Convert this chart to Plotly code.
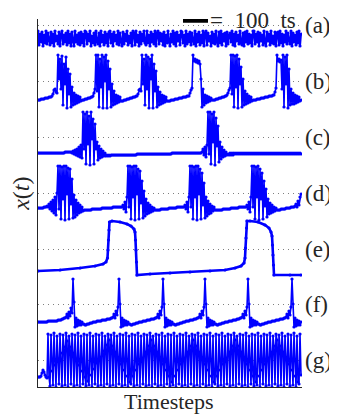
import plotly.graph_objects as go

# ---------------- data ----------------
DT = 4  # timesteps between samples of the uniformly sampled series

SERIES_LABELS = ["(a)", "(b)", "(c)", "(d)", "(e)", "(f)", "(g)"]
SCALE_BAR_TS = 100
SCALE_BAR_START = 580

A = [
15,1,12,4,14,0,11,3,15,2,13,5,
1,14,3,12,0,15,5,10,2,14,0,12,
15,2,11,4,13,1,15,3,12,0,14,5,
0,15,4,11,2,13,1,14,3,12,0,15,
14,2,12,5,15,0,10,3,13,1,15,4,
2,13,0,15,4,11,1,14,3,12,0,14,
15,3,12,0,14,5,11,2,15,1,13,4,
0,14,2,12,5,15,1,10,3,13,0,15,
13,1,15,4,11,0,14,2,12,5,15,3,
1,15,3,11,0,14,4,12,2,15,0,13,
15,2,13,5,12,1,14,0,11,3,15,4,
0,12,4,15,2,13,0,14,5,11,1,15,
14,3,11,0,15,2,12,4,14,1,13,5,
2,15,0,12,4,14,1,11,3,15,0,13,
15,1,13,5,10,0,14,3,12,2,15,4,
0,14,3,15,1,12,5,13,0,14,2,11,
13,4,15,1,12,0,14,5,11,2,15,3,
1,13,0,14,4,15,2,12,3,11,0,15,
15,2,12,4,14,0,13,5,11,1,15,3,
0,14,5,12,1,15,3,10,2,14,0,13,
14,1,15,3,12,0,11,4,15,2,13,5,
2,15,0,13,4,11,1,14,3,15,0,12,
]

B = [
-1,-1,-1,0,0,0,0,1,1,1,1,2,2,2,3,
5,9,10,7,6,
44,20,40,10,43,-6,35,15,42,-9,30,5,25,-8,12,
-6,6,-5,4,-4,3,-3,2,-2,-1,
-1,-1,0,0,0,1,1,1,2,2,3,
6,10,
44,8,44,-8,40,12,44,-9,42,18,44,-9,38,10,30,-8,
15,-6,8,-5,4,-4,3,-3,2,-2,
-2,-2,-1,-1,-1,0,0,0,1,1,1,2,2,2,3,3,
5,9,10,8,
44,15,40,-6,44,10,42,-9,40,20,44,-9,35,8,28,-8,
12,-6,7,-5,4,-4,3,-3,2,-2,
-2,-2,-2,-1,-1,-1,-1,0,0,0,0,1,1,1,1,2,2,2,2,3,3,3,
6,9,11,
44,38,40,37,39,36,38,35,20,-8,10,
-6,4,-4,3,-3,2,-2,1,-1,-1,
-1,-1,0,0,0,1,1,1,2,2,2,3,3,4,
6,9,11,
44,5,44,-8,43,12,44,-9,40,15,32,-8,20,
-6,8,-5,5,-4,3,-3,2,-2,-1,
-1,-1,-1,0,0,0,0,1,1,1,1,2,2,2,2,3,3,3,3,4,4,
7,11,
44,38,40,37,39,10,44,-8,42,15,44,-9,30,
-6,10,-5,6,-5,4,-4,3,-3,2,-2,-1,
]

C = [
1,1,1,1,1,1,1,1,1,1,
1,1,1,1,1,1,1,1,1,1,
1,1,1,1,1,1,1,2,2,2,
2,2,2,2,
1,3,0,4,-1,5,-2,7,-3,9,-4,
42,5,40,-10,42,10,38,-11,42,15,35,-10,30,5,
12,-6,8,-4,5,-3,3,-2,1,-2,
-1,-2,-1,-2,-1,-1,-1,-1,-1,-1,
-1,-1,-1,-1,-1,-1,-1,-1,-1,-1,
-1,-1,-1,-1,-1,-1,-1,-1,-1,-1,
0,0,0,0,0,0,0,0,0,0,
0,0,0,0,0,0,0,0,0,0,
0,0,0,0,0,0,0,0,0,0,
0,0,0,0,0,1,1,1,1,1,
1,1,1,1,1,1,1,1,1,1,
1,1,1,1,1,1,1,1,1,1,
1,1,1,1,1,
2,5,-1,7,-3,9,
42,0,42,-10,40,12,42,-11,36,8,28,
-8,12,-5,7,-3,4,-2,2,-1,0,
-1,1,-1,1,-1,1,0,1,0,1,
0,1,0,1,0,1,0,1,0,1,
0,1,0,1,0,1,0,1,0,1,
0,1,0,1,0,1,0,1,0,1,
0,1,0,1,0,1,0,1,0,1,
0,1,0,1,0,1,0,1,0,1,
0,1,0,1,0,1,0,1,0,1,
0,1,0,
]

D = [
1,1,1,1,1,1,2,2,2,3,
2,5,0,7,-2,9,-4,12,-6,16,
43,0,43,-10,42,10,43,-11,43,15,41,-10,40,5,30,-9,
14,-8,9,-6,6,-4,4,-3,2,-2,
-1,-1,-1,-1,-1,-1,-1,-1,0,0,0,0,0,0,0,0,0,0,1,1,1,1,1,1,1,1,1,1,1,2,2,2,2,2,2,2,2,2,2,
4,0,7,-3,12,
43,2,43,-10,42,12,43,-11,43,15,40,-10,38,6,28,-9,18,
-7,10,-5,6,-4,4,-3,2,-2,1,
-1,-1,-1,-1,-1,-1,0,0,0,0,0,0,0,0,1,1,1,1,1,1,1,1,2,2,2,2,2,2,2,2,
4,0,7,-3,12,
43,2,43,-10,42,12,43,-11,43,15,40,-10,36,4,26,-9,
12,-7,8,-5,5,-4,3,-2,2,-1,
-1,-1,-1,-1,-1,-1,-1,0,0,0,0,0,0,0,0,1,1,1,1,1,1,1,1,2,2,2,2,2,2,2,2,
4,0,7,-3,12,
43,2,43,-10,42,12,43,-11,40,10,36,-10,28,3,20,
-8,10,-5,6,-4,4,-3,2,-2,1,
-1,-1,-1,-1,0,0,0,0,0,1,1,1,1,1,2,2,2,2,
3,5,2,8,4,12,15,
]

# (e) is a relaxation oscillation: explicit (timestep, value) points
E_T = [0, 88, 168, 228, 260, 272, 278, 280, 282, 284, 286, 296, 328, 356, 372, 384,
       388, 390, 392, 394, 396, 448, 528, 608, 688, 748, 788, 812, 824, 828, 830,
       832, 834, 836, 848, 880, 908, 924, 932, 936, 938, 940, 942, 944, 1008, 1052]
E_V = [1, 2, 4, 6, 8, 10, 14, 22, 32, 42, 50, 51, 50, 48, 46, 43,
       40, 32, 22, 10, -3, -2, -1, 0, 1, 2, 4, 6, 9, 14, 24,
       34, 44, 51, 51, 50, 47, 44, 40, 36, 27, 17, 7, -3, -3, -3]

F = [
0,0,0,0,0,0,0,0,0,0,1,1,1,1,1,1,1,1,1,1,2,2,2,2,3,3,4,4,5,
8,4,10,6,14,9,
43,20,-5,4,
-4,2,-3,1,-3,0,-2,-2,
-3,-3,-2,-2,-2,-1,-1,-1,0,0,0,0,1,1,1,1,1,2,2,2,2,2,3,3,3,3,4,4,5,
8,4,11,7,15,
43,18,-5,4,
-4,2,-3,1,-3,0,-2,-2,
-3,-3,-2,-2,-2,-1,-1,-1,0,0,0,0,1,1,1,1,2,2,2,2,3,3,3,3,4,4,5,
8,4,11,7,15,
43,18,-5,4,
-4,2,-3,1,-3,0,-2,-2,
-3,-3,-2,-2,-2,-1,-1,-1,0,0,0,1,1,1,1,2,2,2,2,3,3,3,4,4,5,
8,4,11,7,15,
43,18,-5,4,
-4,2,-3,1,-3,0,-2,-2,
-3,-3,-2,-2,-2,-1,-1,-1,0,0,0,0,1,1,1,1,2,2,2,2,3,3,3,4,4,5,
8,4,11,7,15,
43,18,-5,4,
-4,2,-3,1,-3,0,-2,-2,
-3,-3,-2,-2,-2,-1,-1,-1,0,0,0,0,1,1,1,1,2,2,2,2,3,3,3,3,4,4,5,
8,4,11,7,15,
43,18,-5,4,
-4,2,-3,1,-3,0,
]

G = [
10,10,10,11,14,17,15,12,10,9,
53,10,1,52,16,2,54,22,0,51,28,3,
53,34,1,52,40,2,54,46,0,51,40,3,
53,34,1,52,28,2,54,22,0,51,16,3,
53,10,1,52,6,2,54,12,0,51,18,3,
53,24,1,52,30,2,54,36,0,51,42,3,
53,47,1,52,41,2,54,35,0,51,29,3,
53,23,1,52,17,2,54,11,0,51,5,3,
53,11,1,52,17,2,54,23,0,51,29,3,
53,35,1,52,41,2,54,47,0,51,41,3,
53,35,1,52,29,2,54,23,0,51,17,3,
53,11,1,52,5,2,54,11,0,51,17,3,
53,23,1,52,29,2,54,35,0,51,41,3,
53,47,1,52,41,2,54,35,0,51,29,3,
53,23,1,52,17,2,54,11,0,51,5,3,
53,11,1,52,17,2,54,23,0,51,29,3,
53,35,1,52,41,2,54,47,0,51,41,3,
53,35,1,52,29,2,54,23,0,51,17,3,
53,11,1,52,5,2,54,11,0,51,17,3,
53,23,1,52,29,2,54,35,0,51,41,3,
53,47,1,52,41,2,54,35,0,51,29,3,
53,23,1,52,17,2,54,11,0,51,5,3,
53,12,
]

# ---------------- layout / style ----------------
OFFSETS = [341, 288, 233, 178, 115, 65, 0]   # vertical stacking of the rows
GRID = [362, 306, 250, 194, 138, 83, 27]     # dotted reference line per row
BLUE = "#0000FF"
SERIF = "Liberation Serif, DejaVu Serif, serif"
TXT = "#262626"

fig = go.Figure()

def add(t, v, off, width=1.6):
    fig.add_trace(go.Scatter(
        x=t, y=[off + val for val in v], mode="lines+markers",
        line=dict(color=BLUE, width=width),
        marker=dict(color=BLUE, size=3.2, symbol="circle"),
        hoverinfo="skip", cliponaxis=True))

uniform = [A, B, C, D, None, F, G]
widths = [2.0, 1.6, 1.6, 1.6, 2.6, 1.6, 1.6]
for k, vals in enumerate(uniform):
    if vals is None:
        add(E_T, E_V, OFFSETS[k], width=widths[k])
    else:
        add([i * DT for i in range(len(vals))], vals, OFFSETS[k], width=widths[k])

annotations = []
for lab, gy in zip(SERIES_LABELS, GRID):
    annotations.append(dict(text=lab, xref="paper", x=1.0, xanchor="left", xshift=1,
                            yref="y", y=gy, yanchor="middle", showarrow=False,
                            font=dict(family=SERIF, size=23, color=TXT)))

annotations.append(dict(text="=&nbsp;&nbsp;100&nbsp;&nbsp;ts", xref="x",
                        x=SCALE_BAR_START + SCALE_BAR_TS,
                        xanchor="left", xshift=0, yref="y", y=367, yanchor="middle",
                        showarrow=False, font=dict(family=SERIF, size=23, color=TXT)))
annotations.append(dict(text="Timesteps", xref="paper", x=0.496, xanchor="center",
                        yref="paper", y=0, yanchor="top", yshift=0, showarrow=False,
                        font=dict(family=SERIF, size=22, color=TXT)))
annotations.append(dict(text="<i>x</i>(<i>t</i>)", xref="paper", x=-0.062, xanchor="center",
                        yref="paper", y=0.524, yanchor="middle", textangle=-90,
                        showarrow=False, font=dict(family=SERIF, size=24, color=TXT)))

fig.add_shape(type="line", xref="x", yref="y",
              x0=SCALE_BAR_START, x1=SCALE_BAR_START + SCALE_BAR_TS, y0=366.5, y1=366.5,
              line=dict(color="black", width=4.5))

# the page body adds an 8 px margin, so the figure is 8 px smaller and offset
fig.update_layout(
    width=329, height=406,
    margin=dict(l=30, r=35, t=11, b=27),
    plot_bgcolor="white", paper_bgcolor="white",
    showlegend=False, annotations=annotations,
    xaxis=dict(range=[0, 1056], showline=True, linecolor=TXT, linewidth=1,
               showticklabels=False, ticks="", showgrid=False, zeroline=False),
    yaxis=dict(range=[0, 368], showline=True, linecolor=TXT, linewidth=1,
               tickvals=GRID, showticklabels=False, ticks="", showgrid=True,
               gridcolor="#7f7f7f", gridwidth=1, griddash="1px,4px", zeroline=False),
)

fig.write_html("out.html")
